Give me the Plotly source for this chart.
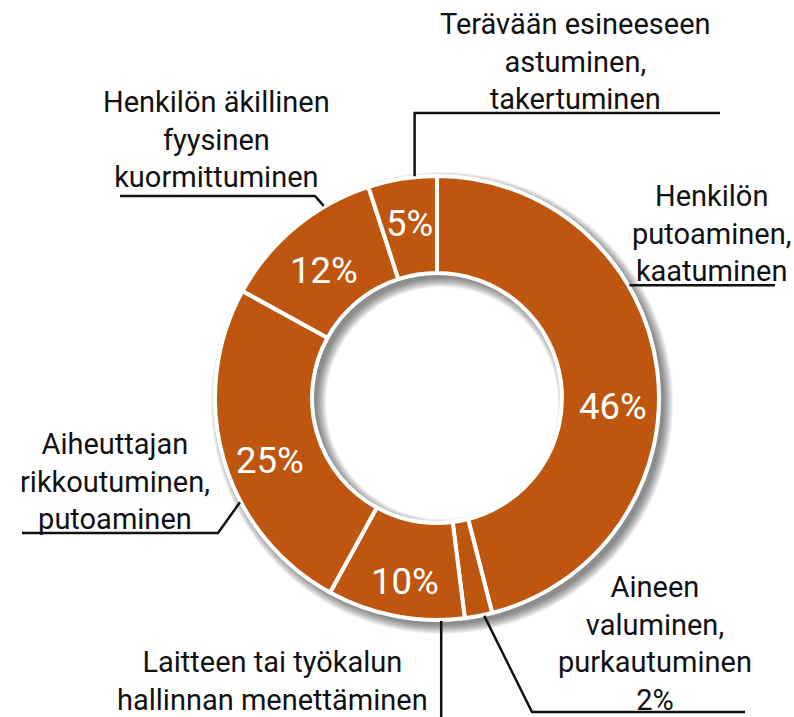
import math
import plotly.graph_objects as go

# ---- data ----
categories = [
    "Henkilön<br>putoaminen,<br>kaatuminen",
    "Aineen<br>valuminen,<br>purkautuminen<br>2%",
    "Laitteen tai työkalun<br>hallinnan menettäminen",
    "Aiheuttajan<br>rikkoutuminen,<br>putoaminen",
    "Henkilön äkillinen<br>fyysinen<br>kuormittuminen",
    "Terävään esineeseen<br>astuminen,<br>takertuminen",
]
values = [46, 2, 10, 25, 12, 5]
show_inside = [True, False, True, True, True, True]

# ---- layout constants (pixels) ----
W, H = 794, 717
CX, CY, R = 437, 398, 222
HOLE = 0.563
COLOR = "#BF560F"
FONT = "Roboto"

def X(px):
    return px / W

def Y(py):
    return 1 - py / H

# label centres and leader geometry
label_pos = [(711, 233), (655, 643), (272, 681), (115, 481), (216, 139), (575, 61)]
anchor_frac = [0.36, 0.3, 0.17, 0.37, 0.71, 0.68]
elbows = [
    [(775, None)],
    [(532, 712), (745, 712)],
    [(None, 717)],
    [(218, 533), (22, 533)],
    [(315, 196), (120, 196)],
    [(None, 113), (720, 113)],
]
# inside percent label placement (fraction along slice, radius px)
pct_frac = [0.555, 0.5, 0.48, 0.46, 0.47, 0.52]
pct_rad = [176, 175, 183, 177, 172, 180]

total = sum(values)

fig = go.Figure()

# soft drop shadow behind the donut (offset down-right, blurred by stacking)
SH_OFF = 5
r_in = R * HOLE
for k in range(0, 10, 1):
    rr = R + k
    hole_r = max(r_in - k, 1)
    fig.add_trace(go.Pie(
        values=[1], hole=hole_r / rr, sort=False,
        marker=dict(colors=["rgba(0,0,0,0.055)"], line=dict(width=0)),
        textinfo="none", hoverinfo="skip", showlegend=False,
        domain=dict(x=[X(CX + SH_OFF - rr), X(CX + SH_OFF + rr)],
                    y=[Y(CY + SH_OFF + rr), Y(CY + SH_OFF - rr)]),
    ))

fig.add_trace(go.Pie(
    values=values, labels=categories, sort=False,
    direction="clockwise", rotation=0, hole=HOLE,
    marker=dict(colors=[COLOR] * len(values), line=dict(color="white", width=4)),
    textinfo="none", hoverinfo="label+percent", showlegend=False,
    domain=dict(x=[X(CX - R), X(CX + R)], y=[Y(CY + R), Y(CY - R)]),
))

start = 0.0
for i, v in enumerate(values):
    span = 360 * v / total
    ang = math.radians(start + span * anchor_frac[i])
    ax = CX + (R + 1) * math.sin(ang)
    ay = CY - (R + 1) * math.cos(ang)
    pts = [(ax, ay)]
    for ex, ey in elbows[i]:
        px = pts[-1][0] if ex is None else ex
        py = pts[-1][1] if ey is None else ey
        pts.append((px, py))
    path = "M " + " L ".join(f"{X(p[0])},{Y(p[1])}" for p in pts)
    fig.add_shape(type="path", path=path, xref="paper", yref="paper",
                  line=dict(color="#111111", width=2.5))
    lx, ly = label_pos[i]
    fig.add_annotation(x=X(lx), y=Y(ly), xref="paper", yref="paper",
                       text=categories[i], showarrow=False, align="center",
                       xanchor="center", yanchor="middle",
                       font=dict(family=FONT, size=29, color="#111111"))
    if show_inside[i]:
        pa = math.radians(start + span * pct_frac[i])
        tx = CX + pct_rad[i] * math.sin(pa)
        ty = CY - pct_rad[i] * math.cos(pa) + 3
        fig.add_annotation(x=X(tx), y=Y(ty), xref="paper", yref="paper",
                           text=f"{v / total:.0%}", showarrow=False,
                           xanchor="center", yanchor="middle",
                           font=dict(family=FONT, size=36.5, color="white"))
    start += span

fig.update_layout(
    width=W, height=H, margin=dict(l=0, r=0, t=0, b=0),
    paper_bgcolor="white", plot_bgcolor="white",
)

fig.write_html("out.html")
